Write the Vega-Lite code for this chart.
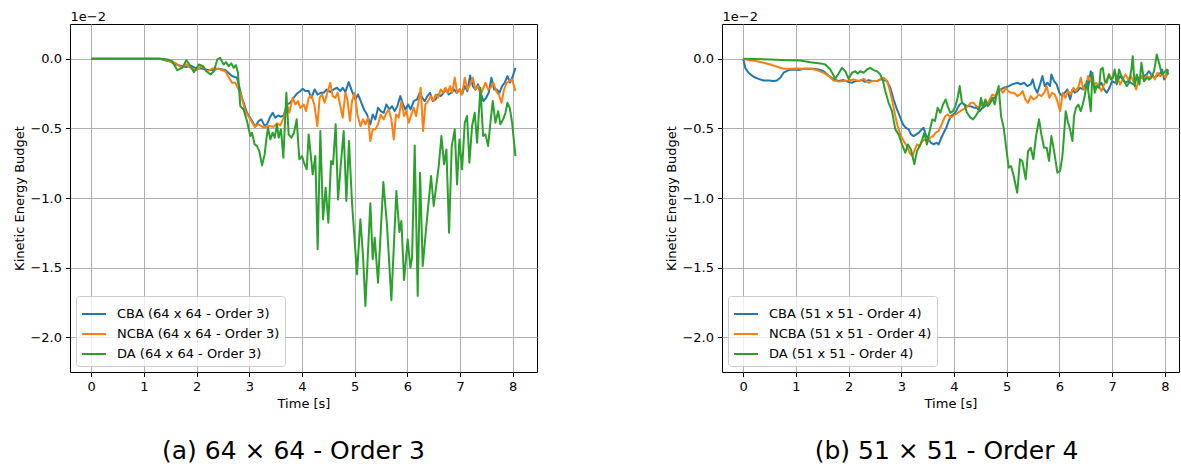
{
  "$schema": "https://vega.github.io/schema/vega-lite/v6.json",
  "background": "white",
  "autosize": {"type": "pad"},
  "padding": {"left": 12, "top": 9, "right": 0, "bottom": 0},
  "bounds": "flush",
  "spacing": 185,
  "config": {
    "font": "DejaVu Sans",
    "view": {"stroke": "black", "strokeWidth": 1},
    "axis": {
      "labelFont": "DejaVu Sans", "labelFontSize": 13, "labelColor": "black",
      "titleFont": "DejaVu Sans", "titleFontSize": 13, "titleFontWeight": "normal", "titleColor": "black",
      "tickColor": "black", "tickSize": 4.5, "tickWidth": 1, "labelPadding": 4,
      "gridColor": "#b0b0b0", "gridWidth": 1, "gridOpacity": 1, "domain": false
    },
    "legend": {
      "orient": "bottom-left", "offset": 6, "symbolType": "stroke", "symbolSize": 576, "symbolStrokeWidth": 2,
      "labelFont": "DejaVu Sans", "labelFontSize": 13, "labelColor": "black", "labelOffset": 10, "labelLimit": 400,
      "fillColor": "rgba(255,255,255,0.8)", "strokeColor": "#cccccc", "cornerRadius": 3, "padding": 5, "rowPadding": -4
    }
  },
  "datasets": {
    "a": [
      {"s":"CBA","t":0,"v":0},{"s":"CBA","t":0.5,"v":0},{"s":"CBA","t":1.0,"v":0},{"s":"CBA","t":1.3,"v":0},{"s":"CBA","t":1.4,"v":-0.01},{"s":"CBA","t":1.5,"v":-0.02},{"s":"CBA","t":1.6,"v":-0.04},{"s":"CBA","t":1.7,"v":-0.05},{"s":"CBA","t":1.8,"v":-0.06},{"s":"CBA","t":1.9,"v":-0.05},{"s":"CBA","t":2.0,"v":-0.07},{"s":"CBA","t":2.1,"v":-0.07},{"s":"CBA","t":2.2,"v":-0.08},{"s":"CBA","t":2.3,"v":-0.08},
      {"s":"CBA","t":2.418,"v":-0.072},{"s":"CBA","t":2.544,"v":-0.081},{"s":"CBA","t":2.671,"v":-0.124},{"s":"CBA","t":2.766,"v":-0.136},{"s":"CBA","t":2.861,"v":-0.28},{"s":"CBA","t":2.956,"v":-0.388},{"s":"CBA","t":3.051,"v":-0.447},{"s":"CBA","t":3.114,"v":-0.488},{"s":"CBA","t":3.177,"v":-0.447},{"s":"CBA","t":3.228,"v":-0.435},{"s":"CBA","t":3.285,"v":-0.478},{"s":"CBA","t":3.335,"v":-0.471},{"s":"CBA","t":3.399,"v":-0.416},{"s":"CBA","t":3.443,"v":-0.388},{"s":"CBA","t":3.494,"v":-0.423},{"s":"CBA","t":3.544,"v":-0.407},{"s":"CBA","t":3.595,"v":-0.416},{"s":"CBA","t":3.652,"v":-0.407},{"s":"CBA","t":3.715,"v":-0.328},{"s":"CBA","t":3.778,"v":-0.316},{"s":"CBA","t":3.842,"v":-0.28},{"s":"CBA","t":3.905,"v":-0.249},{"s":"CBA","t":3.968,"v":-0.232},{"s":"CBA","t":4.013,"v":-0.215},{"s":"CBA","t":4.063,"v":-0.232},{"s":"CBA","t":4.127,"v":-0.232},{"s":"CBA","t":4.177,"v":-0.28},{"s":"CBA","t":4.241,"v":-0.22},{"s":"CBA","t":4.297,"v":-0.256},{"s":"CBA","t":4.354,"v":-0.244},{"s":"CBA","t":4.411,"v":-0.244},{"s":"CBA","t":4.475,"v":-0.22},{"s":"CBA","t":4.538,"v":-0.239},{"s":"CBA","t":4.601,"v":-0.22},{"s":"CBA","t":4.665,"v":-0.208},{"s":"CBA","t":4.728,"v":-0.232},{"s":"CBA","t":4.772,"v":-0.208},{"s":"CBA","t":4.823,"v":-0.239},{"s":"CBA","t":4.886,"v":-0.167},{"s":"CBA","t":4.949,"v":-0.232},{"s":"CBA","t":5.013,"v":-0.292},{"s":"CBA","t":5.063,"v":-0.256},{"s":"CBA","t":5.127,"v":-0.316},{"s":"CBA","t":5.177,"v":-0.364},{"s":"CBA","t":5.234,"v":-0.4},{"s":"CBA","t":5.297,"v":-0.471},{"s":"CBA","t":5.342,"v":-0.4},{"s":"CBA","t":5.392,"v":-0.435},{"s":"CBA","t":5.443,"v":-0.352},{"s":"CBA","t":5.494,"v":-0.376},{"s":"CBA","t":5.551,"v":-0.388},{"s":"CBA","t":5.601,"v":-0.328},{"s":"CBA","t":5.658,"v":-0.364},{"s":"CBA","t":5.709,"v":-0.34},{"s":"CBA","t":5.759,"v":-0.376},{"s":"CBA","t":5.81,"v":-0.34},{"s":"CBA","t":5.867,"v":-0.268},{"s":"CBA","t":5.918,"v":-0.328},{"s":"CBA","t":5.962,"v":-0.364},{"s":"CBA","t":6.013,"v":-0.328},{"s":"CBA","t":6.063,"v":-0.364},{"s":"CBA","t":6.12,"v":-0.304},{"s":"CBA","t":6.184,"v":-0.292},{"s":"CBA","t":6.234,"v":-0.244},{"s":"CBA","t":6.285,"v":-0.28},{"s":"CBA","t":6.329,"v":-0.304},{"s":"CBA","t":6.38,"v":-0.268},{"s":"CBA","t":6.43,"v":-0.244},{"s":"CBA","t":6.481,"v":-0.304},{"s":"CBA","t":6.532,"v":-0.292},{"s":"CBA","t":6.582,"v":-0.256},{"s":"CBA","t":6.633,"v":-0.268},{"s":"CBA","t":6.684,"v":-0.244},{"s":"CBA","t":6.734,"v":-0.22},{"s":"CBA","t":6.785,"v":-0.256},{"s":"CBA","t":6.835,"v":-0.244},{"s":"CBA","t":6.886,"v":-0.22},{"s":"CBA","t":6.937,"v":-0.244},{"s":"CBA","t":6.987,"v":-0.22},{"s":"CBA","t":7.038,"v":-0.256},{"s":"CBA","t":7.089,"v":-0.196},{"s":"CBA","t":7.139,"v":-0.232},{"s":"CBA","t":7.19,"v":-0.12},{"s":"CBA","t":7.241,"v":-0.196},{"s":"CBA","t":7.291,"v":-0.22},{"s":"CBA","t":7.342,"v":-0.184},{"s":"CBA","t":7.392,"v":-0.244},{"s":"CBA","t":7.443,"v":-0.304},{"s":"CBA","t":7.494,"v":-0.28},{"s":"CBA","t":7.544,"v":-0.244},{"s":"CBA","t":7.595,"v":-0.136},{"s":"CBA","t":7.646,"v":-0.22},{"s":"CBA","t":7.696,"v":-0.22},{"s":"CBA","t":7.747,"v":-0.244},{"s":"CBA","t":7.797,"v":-0.196},{"s":"CBA","t":7.848,"v":-0.172},{"s":"CBA","t":7.899,"v":-0.124},{"s":"CBA","t":7.949,"v":-0.172},{"s":"CBA","t":8.0,"v":-0.124},{"s":"CBA","t":8.051,"v":-0.065},
      {"s":"NCBA","t":0,"v":0},{"s":"NCBA","t":0.5,"v":0},{"s":"NCBA","t":1.0,"v":0},{"s":"NCBA","t":1.3,"v":0},{"s":"NCBA","t":1.4,"v":-0.005},{"s":"NCBA","t":1.5,"v":-0.02},{"s":"NCBA","t":1.6,"v":-0.03},{"s":"NCBA","t":1.7,"v":-0.06},{"s":"NCBA","t":1.8,"v":-0.04},{"s":"NCBA","t":1.9,"v":-0.07},{"s":"NCBA","t":2.0,"v":-0.08},{"s":"NCBA","t":2.1,"v":-0.05},{"s":"NCBA","t":2.2,"v":-0.09},{"s":"NCBA","t":2.3,"v":-0.07},
      {"s":"NCBA","t":2.418,"v":-0.072},{"s":"NCBA","t":2.544,"v":-0.089},{"s":"NCBA","t":2.671,"v":-0.172},{"s":"NCBA","t":2.734,"v":-0.172},{"s":"NCBA","t":2.829,"v":-0.244},{"s":"NCBA","t":2.924,"v":-0.376},{"s":"NCBA","t":3.019,"v":-0.435},{"s":"NCBA","t":3.101,"v":-0.488},{"s":"NCBA","t":3.177,"v":-0.471},{"s":"NCBA","t":3.272,"v":-0.495},{"s":"NCBA","t":3.367,"v":-0.483},{"s":"NCBA","t":3.462,"v":-0.488},{"s":"NCBA","t":3.525,"v":-0.464},{"s":"NCBA","t":3.589,"v":-0.478},{"s":"NCBA","t":3.652,"v":-0.423},{"s":"NCBA","t":3.715,"v":-0.328},{"s":"NCBA","t":3.759,"v":-0.388},{"s":"NCBA","t":3.823,"v":-0.28},{"s":"NCBA","t":3.873,"v":-0.328},{"s":"NCBA","t":3.924,"v":-0.304},{"s":"NCBA","t":3.968,"v":-0.352},{"s":"NCBA","t":4.032,"v":-0.328},{"s":"NCBA","t":4.076,"v":-0.376},{"s":"NCBA","t":4.127,"v":-0.28},{"s":"NCBA","t":4.177,"v":-0.263},{"s":"NCBA","t":4.234,"v":-0.328},{"s":"NCBA","t":4.291,"v":-0.483},{"s":"NCBA","t":4.335,"v":-0.28},{"s":"NCBA","t":4.38,"v":-0.256},{"s":"NCBA","t":4.43,"v":-0.316},{"s":"NCBA","t":4.481,"v":-0.244},{"s":"NCBA","t":4.538,"v":-0.172},{"s":"NCBA","t":4.582,"v":-0.268},{"s":"NCBA","t":4.633,"v":-0.28},{"s":"NCBA","t":4.677,"v":-0.244},{"s":"NCBA","t":4.722,"v":-0.328},{"s":"NCBA","t":4.772,"v":-0.423},{"s":"NCBA","t":4.823,"v":-0.244},{"s":"NCBA","t":4.861,"v":-0.292},{"s":"NCBA","t":4.911,"v":-0.447},{"s":"NCBA","t":4.949,"v":-0.304},{"s":"NCBA","t":5.0,"v":-0.244},{"s":"NCBA","t":5.051,"v":-0.4},{"s":"NCBA","t":5.108,"v":-0.483},{"s":"NCBA","t":5.158,"v":-0.435},{"s":"NCBA","t":5.203,"v":-0.471},{"s":"NCBA","t":5.253,"v":-0.423},{"s":"NCBA","t":5.297,"v":-0.591},{"s":"NCBA","t":5.342,"v":-0.507},{"s":"NCBA","t":5.392,"v":-0.507},{"s":"NCBA","t":5.443,"v":-0.471},{"s":"NCBA","t":5.494,"v":-0.4},{"s":"NCBA","t":5.551,"v":-0.435},{"s":"NCBA","t":5.601,"v":-0.388},{"s":"NCBA","t":5.646,"v":-0.364},{"s":"NCBA","t":5.696,"v":-0.435},{"s":"NCBA","t":5.741,"v":-0.579},{"s":"NCBA","t":5.785,"v":-0.4},{"s":"NCBA","t":5.835,"v":-0.423},{"s":"NCBA","t":5.886,"v":-0.304},{"s":"NCBA","t":5.937,"v":-0.411},{"s":"NCBA","t":5.981,"v":-0.376},{"s":"NCBA","t":6.025,"v":-0.459},{"s":"NCBA","t":6.076,"v":-0.4},{"s":"NCBA","t":6.12,"v":-0.352},{"s":"NCBA","t":6.165,"v":-0.411},{"s":"NCBA","t":6.215,"v":-0.304},{"s":"NCBA","t":6.253,"v":-0.208},{"s":"NCBA","t":6.297,"v":-0.519},{"s":"NCBA","t":6.342,"v":-0.328},{"s":"NCBA","t":6.392,"v":-0.304},{"s":"NCBA","t":6.443,"v":-0.268},{"s":"NCBA","t":6.494,"v":-0.304},{"s":"NCBA","t":6.538,"v":-0.256},{"s":"NCBA","t":6.582,"v":-0.28},{"s":"NCBA","t":6.633,"v":-0.22},{"s":"NCBA","t":6.677,"v":-0.244},{"s":"NCBA","t":6.722,"v":-0.208},{"s":"NCBA","t":6.766,"v":-0.244},{"s":"NCBA","t":6.81,"v":-0.196},{"s":"NCBA","t":6.848,"v":-0.244},{"s":"NCBA","t":6.899,"v":-0.136},{"s":"NCBA","t":6.943,"v":-0.244},{"s":"NCBA","t":6.994,"v":-0.22},{"s":"NCBA","t":7.038,"v":-0.256},{"s":"NCBA","t":7.089,"v":-0.136},{"s":"NCBA","t":7.139,"v":-0.22},{"s":"NCBA","t":7.19,"v":-0.184},{"s":"NCBA","t":7.241,"v":-0.136},{"s":"NCBA","t":7.291,"v":-0.22},{"s":"NCBA","t":7.342,"v":-0.196},{"s":"NCBA","t":7.392,"v":-0.256},{"s":"NCBA","t":7.443,"v":-0.208},{"s":"NCBA","t":7.481,"v":-0.172},{"s":"NCBA","t":7.532,"v":-0.22},{"s":"NCBA","t":7.582,"v":-0.208},{"s":"NCBA","t":7.633,"v":-0.172},{"s":"NCBA","t":7.684,"v":-0.232},{"s":"NCBA","t":7.734,"v":-0.256},{"s":"NCBA","t":7.785,"v":-0.316},{"s":"NCBA","t":7.835,"v":-0.22},{"s":"NCBA","t":7.886,"v":-0.172},{"s":"NCBA","t":7.937,"v":-0.16},{"s":"NCBA","t":7.987,"v":-0.148},{"s":"NCBA","t":8.051,"v":-0.232},
      {"s":"DA","t":0,"v":0},{"s":"DA","t":0.5,"v":0},{"s":"DA","t":1.0,"v":0},{"s":"DA","t":1.3,"v":0},{"s":"DA","t":1.45,"v":-0.005},{"s":"DA","t":1.538,"v":-0.017},{"s":"DA","t":1.633,"v":-0.082},{"s":"DA","t":1.728,"v":-0.065},{"s":"DA","t":1.804,"v":-0.01},{"s":"DA","t":1.886,"v":-0.053},{"s":"DA","t":1.949,"v":-0.096},{"s":"DA","t":2.044,"v":-0.041},{"s":"DA","t":2.12,"v":-0.053},{"s":"DA","t":2.184,"v":-0.089},{"s":"DA","t":2.266,"v":-0.113},{"s":"DA","t":2.329,"v":-0.089},{"s":"DA","t":2.392,"v":-0.005},{"s":"DA","t":2.443,"v":0.007},
      {"s":"DA","t":2.513,"v":-0.041},{"s":"DA","t":2.557,"v":-0.024},{"s":"DA","t":2.608,"v":-0.053},{"s":"DA","t":2.658,"v":-0.033},{"s":"DA","t":2.703,"v":-0.065},{"s":"DA","t":2.747,"v":-0.045},{"s":"DA","t":2.785,"v":-0.1},{"s":"DA","t":2.829,"v":-0.34},{"s":"DA","t":2.892,"v":-0.364},{"s":"DA","t":2.956,"v":-0.447},{"s":"DA","t":3.019,"v":-0.555},{"s":"DA","t":3.051,"v":-0.531},{"s":"DA","t":3.101,"v":-0.615},{"s":"DA","t":3.146,"v":-0.627},{"s":"DA","t":3.19,"v":-0.663},{"s":"DA","t":3.241,"v":-0.766},{"s":"DA","t":3.291,"v":-0.687},{"s":"DA","t":3.323,"v":-0.579},{"s":"DA","t":3.354,"v":-0.495},{"s":"DA","t":3.399,"v":-0.579},{"s":"DA","t":3.443,"v":-0.531},{"s":"DA","t":3.481,"v":-0.567},{"s":"DA","t":3.525,"v":-0.471},{"s":"DA","t":3.557,"v":-0.567},{"s":"DA","t":3.601,"v":-0.507},{"s":"DA","t":3.646,"v":-0.711},{"s":"DA","t":3.703,"v":-0.244},{"s":"DA","t":3.747,"v":-0.543},{"s":"DA","t":3.797,"v":-0.567},{"s":"DA","t":3.848,"v":-0.531},{"s":"DA","t":3.899,"v":-0.435},{"s":"DA","t":3.949,"v":-0.722},{"s":"DA","t":4.0,"v":-0.699},{"s":"DA","t":4.038,"v":-0.746},{"s":"DA","t":4.089,"v":-0.794},{"s":"DA","t":4.127,"v":-0.543},{"s":"DA","t":4.165,"v":-0.687},{"s":"DA","t":4.203,"v":-0.83},{"s":"DA","t":4.253,"v":-0.699},{"s":"DA","t":4.297,"v":-1.368},{"s":"DA","t":4.348,"v":-0.519},{"s":"DA","t":4.399,"v":-1.153},{"s":"DA","t":4.449,"v":-0.926},{"s":"DA","t":4.5,"v":-1.177},{"s":"DA","t":4.551,"v":-0.734},{"s":"DA","t":4.589,"v":-0.758},{"s":"DA","t":4.639,"v":-0.471},{"s":"DA","t":4.684,"v":-1.01},{"s":"DA","t":4.734,"v":-0.77},{"s":"DA","t":4.791,"v":-0.519},{"s":"DA","t":4.842,"v":-1.022},{"s":"DA","t":4.892,"v":-0.591},{"s":"DA","t":4.949,"v":-1.033},{"s":"DA","t":5.044,"v":-1.548},{"s":"DA","t":5.108,"v":-1.153},{"s":"DA","t":5.158,"v":-1.416},{"s":"DA","t":5.203,"v":-1.775},{"s":"DA","t":5.297,"v":-1.038},{"s":"DA","t":5.342,"v":-1.44},{"s":"DA","t":5.38,"v":-1.285},{"s":"DA","t":5.443,"v":-1.608},{"s":"DA","t":5.544,"v":-0.885},{"s":"DA","t":5.614,"v":-1.201},{"s":"DA","t":5.696,"v":-1.734},{"s":"DA","t":5.791,"v":-0.95},{"s":"DA","t":5.848,"v":-1.244},{"s":"DA","t":5.886,"v":-1.165},{"s":"DA","t":5.937,"v":-1.589},{"s":"DA","t":6.006,"v":-1.297},{"s":"DA","t":6.057,"v":-1.5},{"s":"DA","t":6.089,"v":-1.428},{"s":"DA","t":6.139,"v":-0.622},{"s":"DA","t":6.196,"v":-1.703},{"s":"DA","t":6.241,"v":-0.818},{"s":"DA","t":6.291,"v":-1.488},{"s":"DA","t":6.354,"v":-1.225},{"s":"DA","t":6.449,"v":-0.842},{"s":"DA","t":6.5,"v":-1.057},{"s":"DA","t":6.595,"v":-0.77},{"s":"DA","t":6.646,"v":-0.555},{"s":"DA","t":6.696,"v":-0.758},{"s":"DA","t":6.741,"v":-0.651},{"s":"DA","t":6.791,"v":-1.249},{"s":"DA","t":6.842,"v":-0.627},{"s":"DA","t":6.899,"v":-0.507},{"s":"DA","t":6.943,"v":-0.902},{"s":"DA","t":6.987,"v":-0.579},{"s":"DA","t":7.038,"v":-0.794},{"s":"DA","t":7.089,"v":-0.459},{"s":"DA","t":7.133,"v":-0.411},{"s":"DA","t":7.177,"v":-0.746},{"s":"DA","t":7.228,"v":-0.483},{"s":"DA","t":7.278,"v":-0.388},{"s":"DA","t":7.323,"v":-0.603},{"s":"DA","t":7.386,"v":-0.208},{"s":"DA","t":7.437,"v":-0.555},{"s":"DA","t":7.481,"v":-0.543},{"s":"DA","t":7.532,"v":-0.627},{"s":"DA","t":7.576,"v":-0.459},{"s":"DA","t":7.62,"v":-0.304},{"s":"DA","t":7.671,"v":-0.459},{"s":"DA","t":7.722,"v":-0.376},{"s":"DA","t":7.766,"v":-0.471},{"s":"DA","t":7.816,"v":-0.435},{"s":"DA","t":7.861,"v":-0.388},{"s":"DA","t":7.899,"v":-0.316},{"s":"DA","t":7.943,"v":-0.352},{"s":"DA","t":7.987,"v":-0.459},{"s":"DA","t":8.051,"v":-0.699}
    ],
    "b": [
      {"s":"CBA","t":0,"v":0},{"s":"CBA","t":0.038,"v":-0.065},{"s":"CBA","t":0.101,"v":-0.1},{"s":"CBA","t":0.196,"v":-0.129},{"s":"CBA","t":0.291,"v":-0.144},{"s":"CBA","t":0.386,"v":-0.156},{"s":"CBA","t":0.481,"v":-0.156},{"s":"CBA","t":0.576,"v":-0.16},{"s":"CBA","t":0.639,"v":-0.156},{"s":"CBA","t":0.703,"v":-0.136},{"s":"CBA","t":0.766,"v":-0.1},{"s":"CBA","t":0.861,"v":-0.081},{"s":"CBA","t":0.956,"v":-0.077},{"s":"CBA","t":1.051,"v":-0.081},{"s":"CBA","t":1.146,"v":-0.072},{"s":"CBA","t":1.241,"v":-0.072},{"s":"CBA","t":1.335,"v":-0.072},{"s":"CBA","t":1.43,"v":-0.077},{"s":"CBA","t":1.525,"v":-0.089},{"s":"CBA","t":1.62,"v":-0.12},{"s":"CBA","t":1.715,"v":-0.148},{"s":"CBA","t":1.81,"v":-0.16},{"s":"CBA","t":1.905,"v":-0.153},{"s":"CBA","t":2.0,"v":-0.167},{"s":"CBA","t":2.063,"v":-0.172},{"s":"CBA","t":2.127,"v":-0.16},{"s":"CBA","t":2.19,"v":-0.16},{"s":"CBA","t":2.253,"v":-0.153},{"s":"CBA","t":2.316,"v":-0.165},{"s":"CBA","t":2.38,"v":-0.153},{"s":"CBA","t":2.443,"v":-0.16},
      {"s":"CBA","t":2.551,"v":-0.16},{"s":"CBA","t":2.614,"v":-0.144},{"s":"CBA","t":2.665,"v":-0.153},{"s":"CBA","t":2.728,"v":-0.16},{"s":"CBA","t":2.791,"v":-0.208},{"s":"CBA","t":2.854,"v":-0.292},{"s":"CBA","t":2.918,"v":-0.364},{"s":"CBA","t":2.981,"v":-0.423},{"s":"CBA","t":3.032,"v":-0.471},{"s":"CBA","t":3.082,"v":-0.495},{"s":"CBA","t":3.139,"v":-0.507},{"s":"CBA","t":3.184,"v":-0.543},{"s":"CBA","t":3.234,"v":-0.555},{"s":"CBA","t":3.285,"v":-0.543},{"s":"CBA","t":3.335,"v":-0.531},{"s":"CBA","t":3.386,"v":-0.507},{"s":"CBA","t":3.424,"v":-0.495},{"s":"CBA","t":3.462,"v":-0.543},{"s":"CBA","t":3.519,"v":-0.579},{"s":"CBA","t":3.563,"v":-0.603},{"s":"CBA","t":3.614,"v":-0.615},{"s":"CBA","t":3.665,"v":-0.603},{"s":"CBA","t":3.709,"v":-0.615},{"s":"CBA","t":3.759,"v":-0.567},{"s":"CBA","t":3.804,"v":-0.531},{"s":"CBA","t":3.854,"v":-0.495},{"s":"CBA","t":3.899,"v":-0.447},{"s":"CBA","t":3.943,"v":-0.411},{"s":"CBA","t":3.981,"v":-0.4},{"s":"CBA","t":4.025,"v":-0.388},{"s":"CBA","t":4.07,"v":-0.352},{"s":"CBA","t":4.108,"v":-0.328},{"s":"CBA","t":4.152,"v":-0.316},{"s":"CBA","t":4.196,"v":-0.328},{"s":"CBA","t":4.247,"v":-0.34},{"s":"CBA","t":4.297,"v":-0.34},{"s":"CBA","t":4.342,"v":-0.344},{"s":"CBA","t":4.386,"v":-0.352},{"s":"CBA","t":4.437,"v":-0.352},{"s":"CBA","t":4.487,"v":-0.376},{"s":"CBA","t":4.538,"v":-0.352},{"s":"CBA","t":4.589,"v":-0.34},{"s":"CBA","t":4.639,"v":-0.316},{"s":"CBA","t":4.69,"v":-0.304},{"s":"CBA","t":4.741,"v":-0.292},{"s":"CBA","t":4.791,"v":-0.268},{"s":"CBA","t":4.842,"v":-0.232},{"s":"CBA","t":4.892,"v":-0.22},{"s":"CBA","t":4.943,"v":-0.208},{"s":"CBA","t":4.994,"v":-0.203},{"s":"CBA","t":5.044,"v":-0.196},{"s":"CBA","t":5.101,"v":-0.184},
      {"s":"CBA","t":5.203,"v":-0.172},{"s":"CBA","t":5.266,"v":-0.184},{"s":"CBA","t":5.329,"v":-0.172},{"s":"CBA","t":5.392,"v":-0.196},{"s":"CBA","t":5.456,"v":-0.184},{"s":"CBA","t":5.494,"v":-0.148},{"s":"CBA","t":5.532,"v":-0.208},{"s":"CBA","t":5.582,"v":-0.244},{"s":"CBA","t":5.633,"v":-0.184},{"s":"CBA","t":5.677,"v":-0.124},{"s":"CBA","t":5.722,"v":-0.196},{"s":"CBA","t":5.772,"v":-0.172},{"s":"CBA","t":5.823,"v":-0.196},{"s":"CBA","t":5.848,"v":-0.112},{"s":"CBA","t":5.899,"v":-0.16},{"s":"CBA","t":5.949,"v":-0.184},{"s":"CBA","t":6.0,"v":-0.244},{"s":"CBA","t":6.051,"v":-0.268},{"s":"CBA","t":6.101,"v":-0.244},{"s":"CBA","t":6.152,"v":-0.22},{"s":"CBA","t":6.203,"v":-0.292},{"s":"CBA","t":6.247,"v":-0.22},{"s":"CBA","t":6.291,"v":-0.244},{"s":"CBA","t":6.342,"v":-0.232},{"s":"CBA","t":6.392,"v":-0.208},{"s":"CBA","t":6.443,"v":-0.22},{"s":"CBA","t":6.494,"v":-0.184},{"s":"CBA","t":6.544,"v":-0.208},{"s":"CBA","t":6.595,"v":-0.089},{"s":"CBA","t":6.646,"v":-0.184},{"s":"CBA","t":6.696,"v":-0.208},{"s":"CBA","t":6.747,"v":-0.196},{"s":"CBA","t":6.797,"v":-0.172},{"s":"CBA","t":6.848,"v":-0.22},{"s":"CBA","t":6.899,"v":-0.244},{"s":"CBA","t":6.949,"v":-0.208},{"s":"CBA","t":7.0,"v":-0.16},{"s":"CBA","t":7.051,"v":-0.172},{"s":"CBA","t":7.101,"v":-0.16},{"s":"CBA","t":7.152,"v":-0.124},{"s":"CBA","t":7.203,"v":-0.148},{"s":"CBA","t":7.253,"v":-0.172},{"s":"CBA","t":7.304,"v":-0.16},{"s":"CBA","t":7.354,"v":-0.172},{"s":"CBA","t":7.405,"v":-0.184},{"s":"CBA","t":7.456,"v":-0.148},{"s":"CBA","t":7.506,"v":-0.136},{"s":"CBA","t":7.557,"v":-0.136},{"s":"CBA","t":7.608,"v":-0.124},{"s":"CBA","t":7.658,"v":-0.112},{"s":"CBA","t":7.696,"v":-0.089},{"s":"CBA","t":7.747,"v":-0.112},{"s":"CBA","t":7.797,"v":-0.136},{"s":"CBA","t":7.848,"v":-0.124},{"s":"CBA","t":7.899,"v":-0.112},{"s":"CBA","t":7.949,"v":-0.077},{"s":"CBA","t":7.987,"v":-0.148},{"s":"CBA","t":8.025,"v":-0.124},{"s":"CBA","t":8.063,"v":-0.077},
      {"s":"NCBA","t":0,"v":0},{"s":"NCBA","t":0.133,"v":-0.01},{"s":"NCBA","t":0.259,"v":-0.017},{"s":"NCBA","t":0.386,"v":-0.029},{"s":"NCBA","t":0.513,"v":-0.041},{"s":"NCBA","t":0.639,"v":-0.057},{"s":"NCBA","t":0.766,"v":-0.072},{"s":"NCBA","t":0.892,"v":-0.072},{"s":"NCBA","t":1.019,"v":-0.069},{"s":"NCBA","t":1.146,"v":-0.072},{"s":"NCBA","t":1.272,"v":-0.072},{"s":"NCBA","t":1.399,"v":-0.081},{"s":"NCBA","t":1.525,"v":-0.1},{"s":"NCBA","t":1.62,"v":-0.124},{"s":"NCBA","t":1.715,"v":-0.156},{"s":"NCBA","t":1.81,"v":-0.163},{"s":"NCBA","t":1.905,"v":-0.16},{"s":"NCBA","t":2.0,"v":-0.156},{"s":"NCBA","t":2.095,"v":-0.148},{"s":"NCBA","t":2.19,"v":-0.16},{"s":"NCBA","t":2.285,"v":-0.144},{"s":"NCBA","t":2.38,"v":-0.172},{"s":"NCBA","t":2.443,"v":-0.16},
      {"s":"NCBA","t":2.538,"v":-0.16},{"s":"NCBA","t":2.601,"v":-0.148},{"s":"NCBA","t":2.665,"v":-0.136},{"s":"NCBA","t":2.728,"v":-0.16},{"s":"NCBA","t":2.778,"v":-0.22},{"s":"NCBA","t":2.829,"v":-0.304},{"s":"NCBA","t":2.88,"v":-0.4},{"s":"NCBA","t":2.93,"v":-0.483},{"s":"NCBA","t":2.981,"v":-0.543},{"s":"NCBA","t":3.044,"v":-0.591},{"s":"NCBA","t":3.108,"v":-0.627},{"s":"NCBA","t":3.158,"v":-0.675},{"s":"NCBA","t":3.209,"v":-0.699},{"s":"NCBA","t":3.259,"v":-0.651},{"s":"NCBA","t":3.297,"v":-0.615},{"s":"NCBA","t":3.348,"v":-0.627},{"s":"NCBA","t":3.399,"v":-0.591},{"s":"NCBA","t":3.456,"v":-0.579},{"s":"NCBA","t":3.506,"v":-0.591},{"s":"NCBA","t":3.551,"v":-0.567},{"s":"NCBA","t":3.601,"v":-0.555},{"s":"NCBA","t":3.652,"v":-0.531},{"s":"NCBA","t":3.709,"v":-0.519},{"s":"NCBA","t":3.753,"v":-0.483},{"s":"NCBA","t":3.791,"v":-0.447},{"s":"NCBA","t":3.835,"v":-0.411},{"s":"NCBA","t":3.88,"v":-0.4},{"s":"NCBA","t":3.93,"v":-0.423},{"s":"NCBA","t":3.981,"v":-0.411},{"s":"NCBA","t":4.025,"v":-0.4},{"s":"NCBA","t":4.07,"v":-0.388},{"s":"NCBA","t":4.12,"v":-0.376},{"s":"NCBA","t":4.171,"v":-0.364},{"s":"NCBA","t":4.222,"v":-0.352},{"s":"NCBA","t":4.272,"v":-0.335},{"s":"NCBA","t":4.323,"v":-0.316},{"s":"NCBA","t":4.373,"v":-0.316},{"s":"NCBA","t":4.424,"v":-0.34},{"s":"NCBA","t":4.475,"v":-0.352},{"s":"NCBA","t":4.525,"v":-0.328},{"s":"NCBA","t":4.576,"v":-0.316},{"s":"NCBA","t":4.627,"v":-0.328},{"s":"NCBA","t":4.677,"v":-0.292},{"s":"NCBA","t":4.728,"v":-0.256},{"s":"NCBA","t":4.778,"v":-0.268},{"s":"NCBA","t":4.829,"v":-0.232},{"s":"NCBA","t":4.88,"v":-0.22},{"s":"NCBA","t":4.93,"v":-0.244},{"s":"NCBA","t":4.981,"v":-0.208},{"s":"NCBA","t":5.032,"v":-0.232},{"s":"NCBA","t":5.082,"v":-0.244},
      {"s":"NCBA","t":5.139,"v":-0.244},{"s":"NCBA","t":5.203,"v":-0.268},{"s":"NCBA","t":5.253,"v":-0.256},{"s":"NCBA","t":5.304,"v":-0.232},{"s":"NCBA","t":5.354,"v":-0.292},{"s":"NCBA","t":5.405,"v":-0.316},{"s":"NCBA","t":5.456,"v":-0.268},{"s":"NCBA","t":5.506,"v":-0.292},{"s":"NCBA","t":5.557,"v":-0.28},{"s":"NCBA","t":5.608,"v":-0.256},{"s":"NCBA","t":5.658,"v":-0.268},{"s":"NCBA","t":5.709,"v":-0.244},{"s":"NCBA","t":5.759,"v":-0.196},{"s":"NCBA","t":5.81,"v":-0.28},{"s":"NCBA","t":5.861,"v":-0.244},{"s":"NCBA","t":5.911,"v":-0.256},{"s":"NCBA","t":5.962,"v":-0.304},{"s":"NCBA","t":6.013,"v":-0.376},{"s":"NCBA","t":6.063,"v":-0.244},{"s":"NCBA","t":6.114,"v":-0.28},{"s":"NCBA","t":6.165,"v":-0.232},{"s":"NCBA","t":6.215,"v":-0.256},{"s":"NCBA","t":6.266,"v":-0.208},{"s":"NCBA","t":6.316,"v":-0.232},{"s":"NCBA","t":6.367,"v":-0.196},{"s":"NCBA","t":6.405,"v":-0.136},{"s":"NCBA","t":6.456,"v":-0.22},{"s":"NCBA","t":6.506,"v":-0.196},{"s":"NCBA","t":6.544,"v":-0.124},{"s":"NCBA","t":6.595,"v":-0.16},{"s":"NCBA","t":6.646,"v":-0.196},{"s":"NCBA","t":6.696,"v":-0.172},{"s":"NCBA","t":6.747,"v":-0.196},{"s":"NCBA","t":6.797,"v":-0.232},{"s":"NCBA","t":6.848,"v":-0.184},{"s":"NCBA","t":6.899,"v":-0.148},{"s":"NCBA","t":6.949,"v":-0.112},{"s":"NCBA","t":7.0,"v":-0.148},{"s":"NCBA","t":7.051,"v":-0.1},{"s":"NCBA","t":7.101,"v":-0.136},{"s":"NCBA","t":7.152,"v":-0.184},{"s":"NCBA","t":7.203,"v":-0.148},{"s":"NCBA","t":7.253,"v":-0.112},{"s":"NCBA","t":7.304,"v":-0.148},{"s":"NCBA","t":7.354,"v":-0.124},{"s":"NCBA","t":7.405,"v":-0.16},{"s":"NCBA","t":7.456,"v":-0.22},{"s":"NCBA","t":7.506,"v":-0.148},{"s":"NCBA","t":7.557,"v":-0.124},{"s":"NCBA","t":7.608,"v":-0.16},{"s":"NCBA","t":7.658,"v":-0.124},{"s":"NCBA","t":7.709,"v":-0.136},{"s":"NCBA","t":7.759,"v":-0.112},{"s":"NCBA","t":7.81,"v":-0.148},{"s":"NCBA","t":7.861,"v":-0.1},{"s":"NCBA","t":7.911,"v":-0.124},{"s":"NCBA","t":7.962,"v":-0.112},{"s":"NCBA","t":8.013,"v":-0.136},{"s":"NCBA","t":8.063,"v":-0.1},
      {"s":"DA","t":0,"v":0},{"s":"DA","t":0.513,"v":-0.005},{"s":"DA","t":0.829,"v":-0.01},{"s":"DA","t":1.082,"v":-0.012},{"s":"DA","t":1.272,"v":-0.024},{"s":"DA","t":1.462,"v":-0.033},{"s":"DA","t":1.557,"v":-0.041},{"s":"DA","t":1.652,"v":-0.077},{"s":"DA","t":1.747,"v":-0.144},{"s":"DA","t":1.81,"v":-0.105},{"s":"DA","t":1.873,"v":-0.065},{"s":"DA","t":1.937,"v":-0.089},{"s":"DA","t":2.0,"v":-0.144},{"s":"DA","t":2.063,"v":-0.1},{"s":"DA","t":2.127,"v":-0.089},{"s":"DA","t":2.171,"v":-0.105},{"s":"DA","t":2.222,"v":-0.089},{"s":"DA","t":2.285,"v":-0.1},{"s":"DA","t":2.348,"v":-0.077},{"s":"DA","t":2.411,"v":-0.065},{"s":"DA","t":2.475,"v":-0.081},
      {"s":"DA","t":2.538,"v":-0.089},{"s":"DA","t":2.601,"v":-0.112},{"s":"DA","t":2.652,"v":-0.16},{"s":"DA","t":2.696,"v":-0.232},{"s":"DA","t":2.759,"v":-0.316},{"s":"DA","t":2.823,"v":-0.376},{"s":"DA","t":2.886,"v":-0.507},{"s":"DA","t":2.949,"v":-0.543},{"s":"DA","t":3.013,"v":-0.615},{"s":"DA","t":3.076,"v":-0.675},{"s":"DA","t":3.127,"v":-0.615},{"s":"DA","t":3.184,"v":-0.651},{"s":"DA","t":3.247,"v":-0.758},{"s":"DA","t":3.297,"v":-0.663},{"s":"DA","t":3.348,"v":-0.627},{"s":"DA","t":3.399,"v":-0.579},{"s":"DA","t":3.437,"v":-0.531},{"s":"DA","t":3.487,"v":-0.615},{"s":"DA","t":3.538,"v":-0.519},{"s":"DA","t":3.589,"v":-0.435},{"s":"DA","t":3.639,"v":-0.447},{"s":"DA","t":3.69,"v":-0.352},{"s":"DA","t":3.741,"v":-0.388},{"s":"DA","t":3.791,"v":-0.328},{"s":"DA","t":3.842,"v":-0.292},{"s":"DA","t":3.88,"v":-0.34},{"s":"DA","t":3.93,"v":-0.388},{"s":"DA","t":3.981,"v":-0.376},{"s":"DA","t":4.025,"v":-0.34},{"s":"DA","t":4.07,"v":-0.28},{"s":"DA","t":4.108,"v":-0.196},{"s":"DA","t":4.152,"v":-0.316},{"s":"DA","t":4.196,"v":-0.328},{"s":"DA","t":4.247,"v":-0.388},{"s":"DA","t":4.31,"v":-0.423},{"s":"DA","t":4.361,"v":-0.435},{"s":"DA","t":4.411,"v":-0.411},{"s":"DA","t":4.468,"v":-0.376},{"s":"DA","t":4.513,"v":-0.28},{"s":"DA","t":4.551,"v":-0.352},{"s":"DA","t":4.595,"v":-0.292},{"s":"DA","t":4.639,"v":-0.34},{"s":"DA","t":4.69,"v":-0.316},{"s":"DA","t":4.728,"v":-0.28},{"s":"DA","t":4.772,"v":-0.328},{"s":"DA","t":4.816,"v":-0.244},{"s":"DA","t":4.848,"v":-0.196},{"s":"DA","t":4.892,"v":-0.411},{"s":"DA","t":4.943,"v":-0.495},{"s":"DA","t":4.994,"v":-0.651},{"s":"DA","t":5.038,"v":-0.782},{"s":"DA","t":5.082,"v":-0.77},{"s":"DA","t":5.133,"v":-0.842},{"s":"DA","t":5.2,"v":-0.962},
      {"s":"DA","t":5.253,"v":-0.722},{"s":"DA","t":5.297,"v":-0.734},{"s":"DA","t":5.361,"v":-0.866},{"s":"DA","t":5.405,"v":-0.663},{"s":"DA","t":5.456,"v":-0.639},{"s":"DA","t":5.506,"v":-0.722},{"s":"DA","t":5.557,"v":-0.555},{"s":"DA","t":5.614,"v":-0.435},{"s":"DA","t":5.658,"v":-0.543},{"s":"DA","t":5.709,"v":-0.639},{"s":"DA","t":5.759,"v":-0.639},{"s":"DA","t":5.804,"v":-0.734},{"s":"DA","t":5.848,"v":-0.555},{"s":"DA","t":5.899,"v":-0.663},{"s":"DA","t":5.962,"v":-0.818},{"s":"DA","t":6.013,"v":-0.806},{"s":"DA","t":6.057,"v":-0.699},{"s":"DA","t":6.089,"v":-0.543},{"s":"DA","t":6.12,"v":-0.376},{"s":"DA","t":6.165,"v":-0.459},{"s":"DA","t":6.203,"v":-0.507},{"s":"DA","t":6.247,"v":-0.591},{"s":"DA","t":6.278,"v":-0.411},{"s":"DA","t":6.316,"v":-0.352},{"s":"DA","t":6.361,"v":-0.328},{"s":"DA","t":6.405,"v":-0.376},{"s":"DA","t":6.443,"v":-0.328},{"s":"DA","t":6.481,"v":-0.268},{"s":"DA","t":6.519,"v":-0.16},{"s":"DA","t":6.557,"v":-0.256},{"s":"DA","t":6.595,"v":-0.376},{"s":"DA","t":6.627,"v":-0.1},{"s":"DA","t":6.671,"v":-0.244},{"s":"DA","t":6.709,"v":-0.196},{"s":"DA","t":6.753,"v":-0.208},{"s":"DA","t":6.785,"v":-0.077},{"s":"DA","t":6.823,"v":-0.065},{"s":"DA","t":6.861,"v":-0.16},{"s":"DA","t":6.899,"v":-0.172},{"s":"DA","t":6.937,"v":-0.112},{"s":"DA","t":6.975,"v":-0.148},{"s":"DA","t":7.013,"v":-0.136},{"s":"DA","t":7.051,"v":-0.077},{"s":"DA","t":7.089,"v":-0.184},{"s":"DA","t":7.133,"v":-0.077},{"s":"DA","t":7.177,"v":-0.124},{"s":"DA","t":7.228,"v":-0.16},{"s":"DA","t":7.278,"v":-0.196},{"s":"DA","t":7.323,"v":-0.172},{"s":"DA","t":7.367,"v":-0.077},{"s":"DA","t":7.392,"v":0.019},{"s":"DA","t":7.43,"v":-0.196},{"s":"DA","t":7.468,"v":-0.112},{"s":"DA","t":7.519,"v":-0.184},{"s":"DA","t":7.557,"v":-0.029},{"s":"DA","t":7.608,"v":-0.16},{"s":"DA","t":7.658,"v":-0.136},{"s":"DA","t":7.703,"v":-0.148},{"s":"DA","t":7.747,"v":-0.136},{"s":"DA","t":7.797,"v":-0.089},{"s":"DA","t":7.848,"v":0.031},{"s":"DA","t":7.899,"v":-0.041},{"s":"DA","t":7.943,"v":-0.112},{"s":"DA","t":7.987,"v":-0.1},{"s":"DA","t":8.038,"v":-0.077},{"s":"DA","t":8.063,"v":-0.112}
    ]
  },
  "hconcat": [
    {
      "width": 467, "height": 348,
      "data": {"name": "a"},
      "title": {"text": "(a) 64 × 64 - Order 3", "orient": "bottom", "anchor": "middle", "font": "DejaVu Sans", "fontSize": 25, "fontWeight": "normal", "color": "black", "offset": 28, "dx": -10},
      "layer": [
        {
          "mark": {"type": "line", "strokeWidth": 2, "strokeJoin": "round", "clip": true},
          "encoding": {
            "x": {"field": "t", "type": "quantitative", "scale": {"domain": [-0.403, 8.46], "nice": false, "zero": false},
                  "axis": {"title": "Time [s]", "values": [0,1,2,3,4,5,6,7,8], "grid": true, "titlePadding": 4, "format": "d"}},
            "y": {"field": "v", "type": "quantitative", "scale": {"domain": [-2.25, 0.25], "nice": false, "zero": false},
                  "axis": {"title": "Kinetic Energy Budget", "values": [0,-0.5,-1,-1.5,-2], "grid": true, "labelExpr": "replace(format(datum.value, '.1f'), '-', '\u2212')", "minExtent": 40, "maxExtent": 40, "titlePadding": 4}},
            "color": {"field": "s", "type": "nominal", "scale": {"domain": ["CBA","NCBA","DA"], "range": ["#1f77b4","#ff7f0e","#2ca02c"]},
                      "legend": {"title": null, "labelExpr": "datum.label + ' (64 x 64 - Order 3)'"}}
          }
        },
        {
          "mark": {"type": "point"},
          "transform": [{"filter": "false"}],
          "encoding": {
            "x": {"field": "t", "type": "quantitative", "axis": {"orient": "top", "title": "1e\u22122", "labels": false, "ticks": false, "grid": false, "domain": false, "titleAnchor": "start", "titleAlign": "left", "titleBaseline": "alphabetic", "titlePadding": 4, "titleAngle": 0}}
          }
        }
      ],
      "resolve": {"axis": {"x": "independent"}}
    },
    {
      "width": 457, "height": 348,
      "data": {"name": "b"},
      "title": {"text": "(b) 51 × 51 - Order 4", "orient": "bottom", "anchor": "middle", "font": "DejaVu Sans", "fontSize": 25, "fontWeight": "normal", "color": "black", "offset": 28, "dx": -4},
      "layer": [
        {
          "mark": {"type": "line", "strokeWidth": 2, "strokeJoin": "round", "clip": true},
          "encoding": {
            "x": {"field": "t", "type": "quantitative", "scale": {"domain": [-0.403, 8.27], "nice": false, "zero": false},
                  "axis": {"title": "Time [s]", "values": [0,1,2,3,4,5,6,7,8], "grid": true, "titlePadding": 4, "format": "d"}},
            "y": {"field": "v", "type": "quantitative", "scale": {"domain": [-2.25, 0.25], "nice": false, "zero": false},
                  "axis": {"title": "Kinetic Energy Budget", "values": [0,-0.5,-1,-1.5,-2], "grid": true, "labelExpr": "replace(format(datum.value, '.1f'), '-', '\u2212')", "minExtent": 40, "maxExtent": 40, "titlePadding": 4}},
            "color": {"field": "s", "type": "nominal", "scale": {"domain": ["CBA","NCBA","DA"], "range": ["#1f77b4","#ff7f0e","#2ca02c"]},
                      "legend": {"title": null, "labelExpr": "datum.label + ' (51 x 51 - Order 4)'"}}
          }
        },
        {
          "mark": {"type": "point"},
          "transform": [{"filter": "false"}],
          "encoding": {
            "x": {"field": "t", "type": "quantitative", "axis": {"orient": "top", "title": "1e\u22122", "labels": false, "ticks": false, "grid": false, "domain": false, "titleAnchor": "start", "titleAlign": "left", "titleBaseline": "alphabetic", "titlePadding": 4, "titleAngle": 0}}
          }
        }
      ],
      "resolve": {"axis": {"x": "independent"}}
    }
  ],
  "resolve": {"scale": {"color": "independent"}, "legend": {"color": "independent"}}
}
